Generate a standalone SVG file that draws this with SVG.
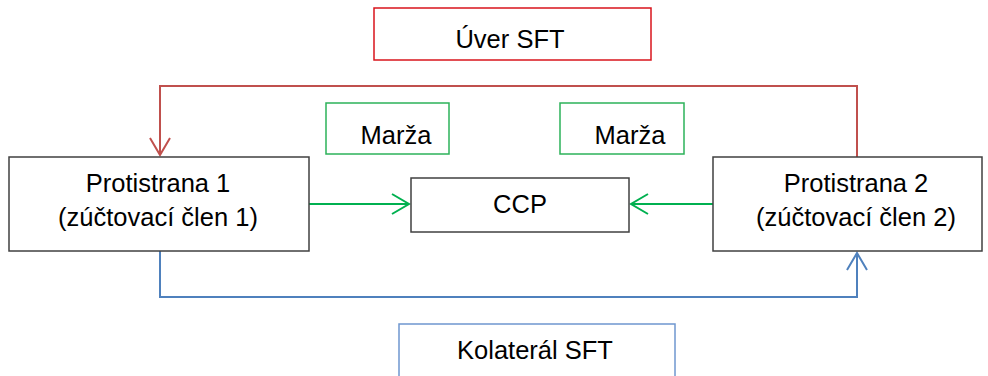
<svg xmlns="http://www.w3.org/2000/svg" width="988" height="376" viewBox="0 0 988 376">
  <style>
    text { font-family: "Liberation Sans", Arial, sans-serif; font-size: 25.5px; fill: #000; text-anchor: middle; }
    .box { fill: #fff; stroke: #404040; stroke-width: 1.5; }
    .red-box { fill: #fff; stroke: #d9141c; stroke-width: 1.5; }
    .green-box { fill: #fff; stroke: #2cb25a; stroke-width: 1.5; }
    .blue-box { fill: #fff; stroke: #6f97cf; stroke-width: 1.5; }
    .red { fill: none; stroke: #c0504d; stroke-width: 2; }
    .green { fill: none; stroke: #00b050; stroke-width: 2; }
    .blue { fill: none; stroke: #4f81bd; stroke-width: 2; }
  </style>
  <defs>
    <marker id="arrow-red" viewBox="0 0 20 22" refX="18" refY="11" markerWidth="20" markerHeight="22" markerUnits="userSpaceOnUse" orient="auto">
      <path d="M1,1 L18,11 L1,21" fill="none" stroke="#c0504d" stroke-width="2"/>
    </marker>
    <marker id="arrow-green" viewBox="0 0 20 22" refX="18" refY="11" markerWidth="20" markerHeight="22" markerUnits="userSpaceOnUse" orient="auto">
      <path d="M1,1 L18,11 L1,21" fill="none" stroke="#00b050" stroke-width="2"/>
    </marker>
    <marker id="arrow-blue" viewBox="0 0 20 22" refX="18" refY="11" markerWidth="20" markerHeight="22" markerUnits="userSpaceOnUse" orient="auto">
      <path d="M1,1 L18,11 L1,21" fill="none" stroke="#4f81bd" stroke-width="2"/>
    </marker>
  </defs>

  <g id="connectors">
    <path class="red" d="M857,157 V86 H160 V155" marker-end="url(#arrow-red)"/>
    <path class="blue" d="M160,251 V297 H857 V253" marker-end="url(#arrow-blue)"/>
    <path class="green" d="M309,204 H409" marker-end="url(#arrow-green)"/>
    <path class="green" d="M713,204 H631" marker-end="url(#arrow-green)"/>
  </g>

  <g id="uver-sft">
    <rect class="red-box" x="374" y="8" width="277" height="52"/>
    <text x="510" y="48">Úver SFT</text>
  </g>

  <g id="marza-1">
    <rect class="green-box" x="326" y="103" width="123" height="51"/>
    <text x="396" y="144">Marža</text>
  </g>

  <g id="marza-2">
    <rect class="green-box" x="560" y="103" width="124" height="51"/>
    <text x="630" y="144">Marža</text>
  </g>

  <g id="protistrana-1">
    <rect class="box" x="9" y="157" width="300" height="94"/>
    <text x="158" y="192">Protistrana 1</text>
    <text x="158" y="226">(zúčtovací člen 1)</text>
  </g>

  <g id="ccp">
    <rect class="box" x="411" y="178" width="218" height="54"/>
    <text x="520" y="213">CCP</text>
  </g>

  <g id="protistrana-2">
    <rect class="box" x="713" y="157" width="269" height="94"/>
    <text x="856" y="192">Protistrana 2</text>
    <text x="856" y="226">(zúčtovací člen 2)</text>
  </g>

  <g id="kolateral-sft">
    <rect class="blue-box" x="399" y="324" width="276" height="60"/>
    <text x="535" y="359">Kolaterál SFT</text>
  </g>
</svg>
